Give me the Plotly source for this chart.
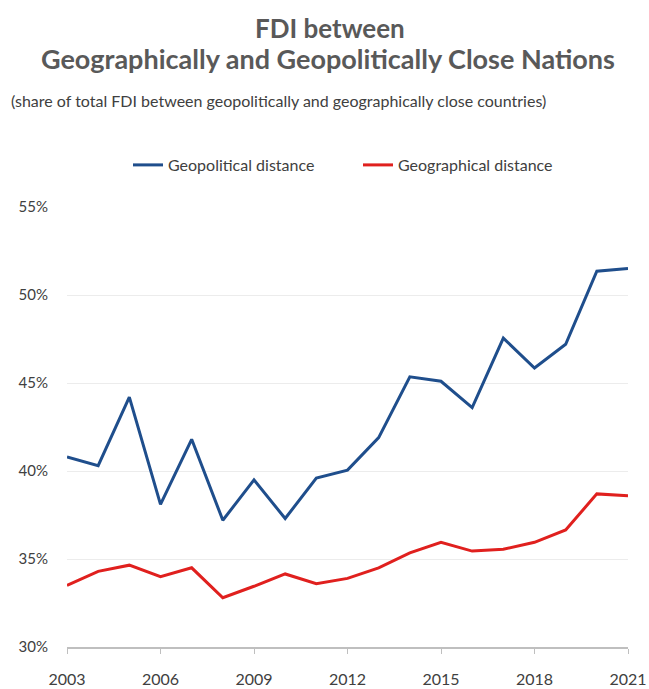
import plotly.graph_objects as go

years = list(range(2003, 2022))
geopolitical = [40.8, 40.3, 44.2, 38.1, 41.8, 37.2, 39.5, 37.3, 39.6, 40.05, 41.9,
                45.35, 45.1, 43.6, 47.55, 45.85, 47.2, 51.35, 51.5]
geographical = [33.5, 34.3, 34.65, 34.0, 34.5, 32.8, 33.45, 34.15, 33.6, 33.9, 34.5,
                35.35, 35.95, 35.45, 35.55, 35.95, 36.65, 38.7, 38.6]
series_names = ["Geopolitical distance", "Geographical distance"]
series_colors = ["#1f4e8c", "#e0201e"]
x_ticks = [2003, 2006, 2009, 2012, 2015, 2018, 2021]
y_ticks = [30, 35, 40, 45, 50, 55]
y_tick_labels = ["30%", "35%", "40%", "45%", "50%", "55%"]

FONT = "Lato"
W, H = 649, 689
L, R, T, B = 67, 21, 207, 42
plot_h = H - T - B


def py(px):
    return (H - B - px) / plot_h


fig = go.Figure()
for name, vals, col in zip(series_names, [geopolitical, geographical], series_colors):
    fig.add_trace(go.Scatter(x=years, y=vals, mode="lines", name=name,
                             line=dict(color=col, width=3), cliponaxis=False))

fig.update_layout(
    width=W, height=H,
    margin=dict(l=L, r=R, t=T, b=B),
    paper_bgcolor="white", plot_bgcolor="white",
    font=dict(family=FONT, color="#404040", size=15),
    showlegend=True,
    legend=dict(orientation="h", x=(128 - L) / (W - L - R), xanchor="left",
                y=py(165), yanchor="middle", xref="paper", yref="paper",
                font=dict(family=FONT, size=16, color="#404040"),
                entrywidth=185, entrywidthmode="pixels",
                bgcolor="rgba(0,0,0,0)"),
    xaxis=dict(range=[2003, 2021], tickvals=x_ticks, ticktext=[str(v) for v in x_ticks],
               showgrid=False, zeroline=False, showline=True, linecolor="#bfbfbf",
               linewidth=1.5, ticks="outside", ticklen=5, tickcolor="#bfbfbf",
               tickfont=dict(family=FONT, size=16, color="#404040"),
               ticklabelstandoff=12, ticklabeloverflow="allow", automargin=False),
    yaxis=dict(range=[30, 55], tickvals=y_ticks, ticktext=y_tick_labels,
               showgrid=True, gridcolor="#ececec", gridwidth=1, zeroline=False,
               showline=False, ticks="", automargin=False,
               tickfont=dict(family=FONT, size=15, color="#404040"),
               ticklabelstandoff=18),
)

annotations = [
    dict(text="<b>FDI between</b>", x=330, y=28, size=26, color="#595959"),
    dict(text="<b>Geographically and Geopolitically Close Nations</b>", x=328, y=58,
         size=27, color="#595959"),
    dict(text="(share of total FDI between geopolitically and geographically close countries)",
         x=278, y=101, size=16, color="#404040"),
]
for a in annotations:
    fig.add_annotation(text=a["text"], xref="paper", yref="paper",
                       x=(a["x"] - L) / (W - L - R), y=py(a["y"]),
                       xanchor="center", yanchor="middle", showarrow=False,
                       font=dict(family=FONT, size=a["size"], color=a["color"]))

fig.write_html("out.html")
